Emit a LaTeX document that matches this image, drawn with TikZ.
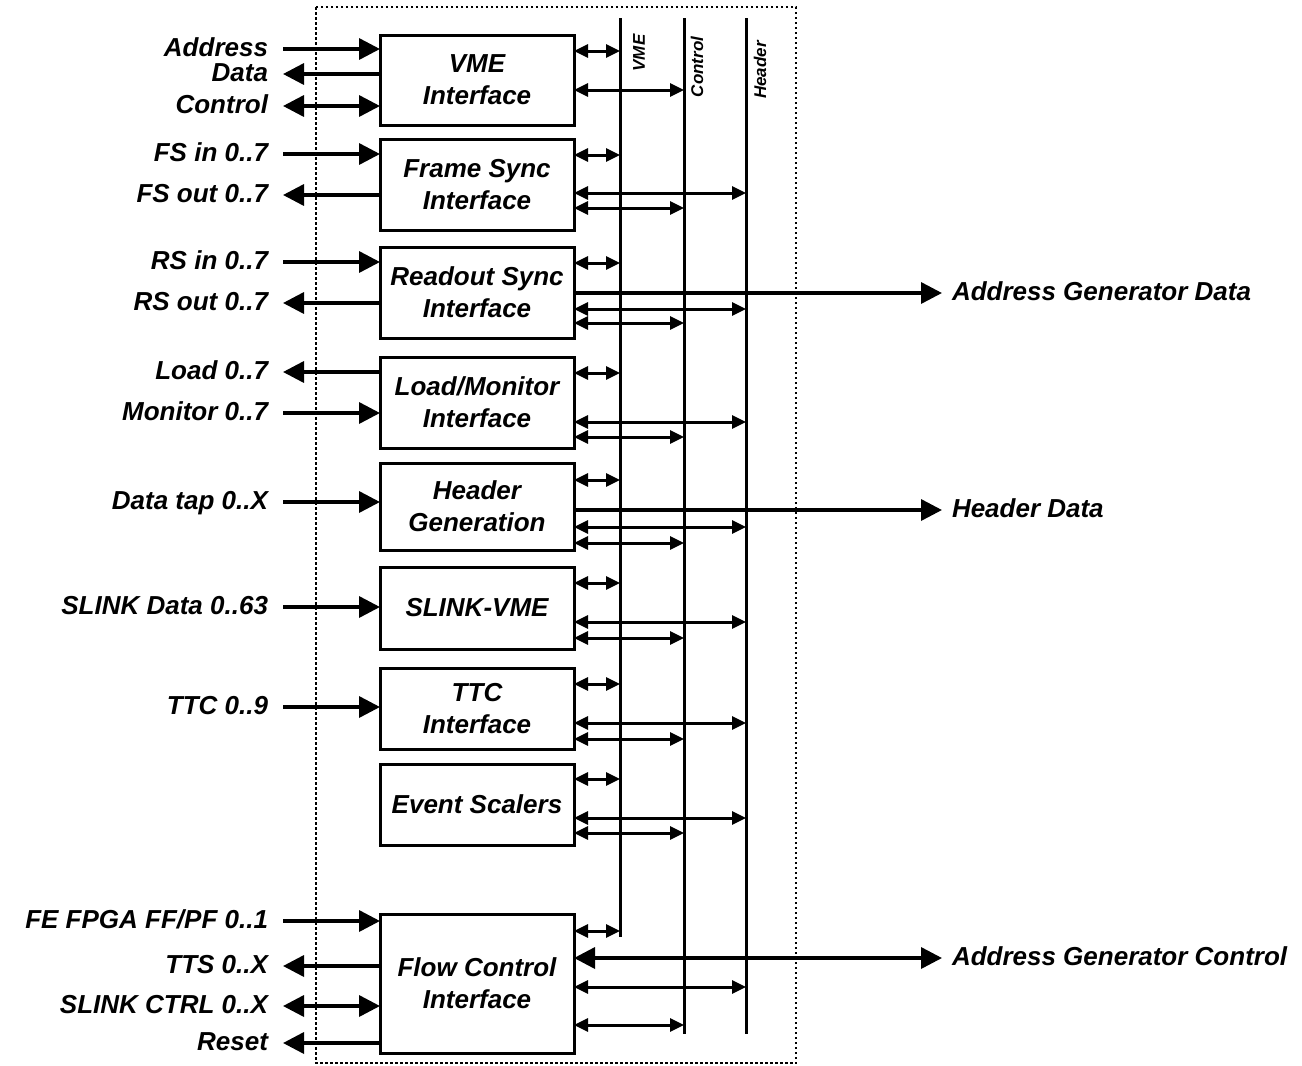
\documentclass[tikz,border=0pt]{standalone}
\usepackage{fontspec}
\setmainfont{Liberation Sans}
\usetikzlibrary{arrows.meta}

\tikzset{
  txt/.style={font=\bfseries\itshape\fontsize{26}{32}\selectfont},
  blk/.style={txt, draw, line width=3pt, minimum width=194pt, align=center, inner sep=0pt, outer sep=0pt},
  lbl/.style={txt, anchor=east, inner sep=0pt, outer xsep=15pt, text height=18pt, text depth=4pt},
  rlbl/.style={txt, anchor=west, inner sep=0pt, outer xsep=10pt, text height=18pt, text depth=4pt},
  buslbl/.style={font=\bfseries\itshape\fontsize{17}{20}\selectfont, rotate=90, inner sep=0pt},
  busline/.style={line width=3pt},
  frame/.style={line width=2.5pt, dash pattern=on 2.5pt off 2.5pt},
  bin/.style={line width=3.5pt, arrows={-Triangle[length=21pt,width=21pt]}},
  bboth/.style={line width=3.5pt, arrows={Triangle[length=21pt,width=21pt]-Triangle[length=21pt,width=21pt]}},
  sboth/.style={line width=3pt, arrows={Triangle[length=14pt,width=13pt]-Triangle[length=14pt,width=13pt]}}
}

% arrow from a block (dy below its top) to a bus line
\newcommand{\tobus}[4][sboth]{%
  \draw[#1] ([yshift=-#4pt]#2.north east) -- ([yshift=-#4pt]#2.north east -| #3);}

\begin{document}
\begin{tikzpicture}[x=1pt, y=-1pt]
  \useasboundingbox (0,0) rectangle (1302,1066);
  \draw[frame] (316,7) rectangle (796,1063);

  % blocks
  \node[blk, minimum height=90pt] (vme) at (477,80) {VME\\Interface};
  \node[blk, minimum height=91pt] (fs) at (477,184.5) {Frame Sync\\Interface};
  \node[blk, minimum height=91pt] (rs) at (477,292.5) {Readout Sync\\Interface};
  \node[blk, minimum height=91pt] (lm) at (477,402.5) {Load/Monitor\\Interface};
  \node[blk, minimum height=87pt] (hg) at (477,506.5) {Header\\Generation};
  \node[blk, minimum height=82pt] (sv) at (477,608) {SLINK-VME};
  \node[blk, minimum height=81pt] (ttc) at (477,708.5) {TTC\\Interface};
  \node[blk, minimum height=81pt] (es) at (477,804.5) {Event Scalers};
  \node[blk, minimum height=139pt] (fc) at (477,983.5) {Flow Control\\Interface};

  % buses
  \coordinate (vmeBus) at (620,18);
  \coordinate (vmeEnd) at (620,937);
  \coordinate (ctlBus) at (684,18);
  \coordinate (ctlEnd) at (684,1034);
  \coordinate (hdrBus) at (746,18);
  \coordinate (hdrEnd) at (746,1034);
  \draw[busline] (vmeBus) -- (vmeEnd);
  \draw[busline] (ctlBus) -- (ctlEnd);
  \draw[busline] (hdrBus) -- (hdrEnd);
  \node[buslbl] (tVme) at (639,53) {VME};
  \node[buslbl] (tCtl) at (697,67) {Control};
  \node[buslbl] (tHdr) at (760,70) {Header};

  % left side signals
  \node[lbl] (lAddr) at (283,49) {Address};
  \node[lbl] (lData) at (283,74) {Data};
  \node[lbl] (lCtl) at (283,106) {Control};
  \draw[bin] (lAddr.east) -- (lAddr.east -| vme.west);
  \draw[bin] (lData.east -| vme.west) -- (lData.east);
  \draw[bboth] (lCtl.east) -- (lCtl.east -| vme.west);

  \node[lbl] (lFsIn) at (283,154) {FS in 0..7};
  \node[lbl] (lFsOut) at (283,195) {FS out 0..7};
  \draw[bin] (lFsIn.east) -- (lFsIn.east -| fs.west);
  \draw[bin] (lFsOut.east -| fs.west) -- (lFsOut.east);

  \node[lbl] (lRsIn) at (283,262) {RS in 0..7};
  \node[lbl] (lRsOut) at (283,303) {RS out 0..7};
  \draw[bin] (lRsIn.east) -- (lRsIn.east -| rs.west);
  \draw[bin] (lRsOut.east -| rs.west) -- (lRsOut.east);

  \node[lbl] (lLoad) at (283,372) {Load 0..7};
  \node[lbl] (lMon) at (283,413) {Monitor 0..7};
  \draw[bin] (lLoad.east -| lm.west) -- (lLoad.east);
  \draw[bin] (lMon.east) -- (lMon.east -| lm.west);

  \node[lbl] (lTap) at (283,502) {Data tap 0..X};
  \draw[bin] (lTap.east) -- (lTap.east -| hg.west);
  \node[lbl] (lSlink) at (283,607) {SLINK Data 0..63};
  \draw[bin] (lSlink.east) -- (lSlink.east -| sv.west);
  \node[lbl] (lTtc) at (283,707) {TTC 0..9};
  \draw[bin] (lTtc.east) -- (lTtc.east -| ttc.west);

  \node[lbl] (lFe) at (283,921) {FE FPGA FF/PF 0..1};
  \node[lbl] (lTts) at (283,966) {TTS 0..X};
  \node[lbl] (lSctl) at (283,1006) {SLINK CTRL 0..X};
  \node[lbl] (lRst) at (283,1043) {Reset};
  \draw[bin] (lFe.east) -- (lFe.east -| fc.west);
  \draw[bin] (lTts.east -| fc.west) -- (lTts.east);
  \draw[bboth] (lSctl.east) -- (lSctl.east -| fc.west);
  \draw[bin] (lRst.east -| fc.west) -- (lRst.east);

  % right side outputs
  \node[rlbl] (lAgd) at (942,293) {Address Generator Data};
  \node[rlbl] (lHd) at (942,510) {Header Data};
  \node[rlbl] (lAgc) at (942,958) {Address Generator Control};
  \draw[bin] ([yshift=-46pt]rs.north east) -- ([yshift=-46pt]rs.north east -| lAgd.west);
  \draw[bin] ([yshift=-47pt]hg.north east) -- ([yshift=-47pt]hg.north east -| lHd.west);
  \draw[bboth] ([yshift=-44pt]fc.north east) -- ([yshift=-44pt]fc.north east -| lAgc.west);

  % block to bus links
  \tobus{vme}{vmeBus}{16}
  \tobus{vme}{ctlBus}{55}
  \tobus{fs}{vmeBus}{16}
  \tobus{fs}{hdrBus}{54}
  \tobus{fs}{ctlBus}{69}
  \tobus{rs}{vmeBus}{16}
  \tobus{rs}{hdrBus}{62}
  \tobus{rs}{ctlBus}{76}
  \tobus{lm}{vmeBus}{16}
  \tobus{lm}{hdrBus}{65}
  \tobus{lm}{ctlBus}{80}
  \tobus{hg}{vmeBus}{17}
  \tobus{hg}{hdrBus}{64}
  \tobus{hg}{ctlBus}{80}
  \tobus{sv}{vmeBus}{16}
  \tobus{sv}{hdrBus}{55}
  \tobus{sv}{ctlBus}{71}
  \tobus{ttc}{vmeBus}{16}
  \tobus{ttc}{hdrBus}{55}
  \tobus{ttc}{ctlBus}{71}
  \tobus{es}{vmeBus}{15}
  \tobus{es}{hdrBus}{54}
  \tobus{es}{ctlBus}{69}
  \tobus{fc}{vmeBus}{17}
  \tobus{fc}{hdrBus}{73}
  \tobus{fc}{ctlBus}{111}
\end{tikzpicture}
\end{document}
